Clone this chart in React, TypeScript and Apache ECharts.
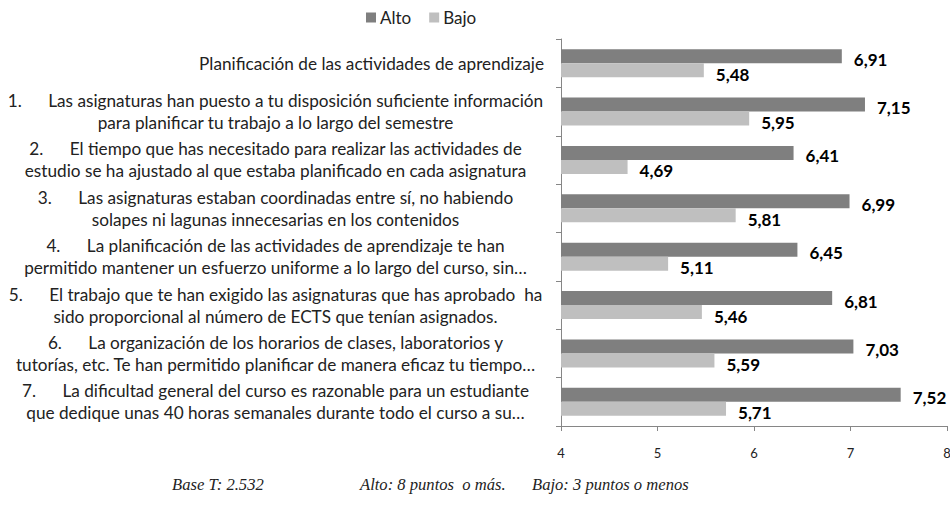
import React, { useEffect, useRef } from "react";
import * as echarts from "echarts";

const categories: string[] = [
  "Planificación de las actividades de aprendizaje",
  "1.      Las asignaturas han puesto a tu disposición suficiente información\npara planificar tu trabajo a lo largo del semestre",
  "2.      El tiempo que has necesitado para realizar las actividades de\nestudio se ha ajustado al que estaba planificado en cada asignatura",
  "3.      Las asignaturas estaban coordinadas entre sí, no habiendo\nsolapes ni lagunas innecesarias en los contenidos",
  "4.      La planificación de las actividades de aprendizaje te han\npermitido mantener un esfuerzo uniforme a lo largo del curso, sin…",
  "5.      El trabajo que te han exigido las asignaturas que has aprobado  ha\nsido proporcional al número de ECTS que tenían asignados.",
  "6.      La organización de los horarios de clases, laboratorios y\ntutorías, etc. Te han permitido planificar de manera eficaz tu tiempo…",
  "7.      La dificultad general del curso es razonable para un estudiante\nque dedique unas 40 horas semanales durante todo el curso a su…",
];

const alto: number[] = [6.91, 7.15, 6.41, 6.99, 6.45, 6.81, 7.03, 7.52];
const bajo: number[] = [5.48, 5.95, 4.69, 5.81, 5.11, 5.46, 5.59, 5.71];

const seriesNames: string[] = ["Alto", "Bajo"];
const footnotes: string[] = ["Base T: 2.532", "Alto: 8 puntos  o más.", "Bajo: 3 puntos o menos"];

const FONT = "Lato";
const CAT_SIZE = 17.2;

export default function App() {
  const ref = useRef<HTMLDivElement>(null);
  useEffect(() => {
    if (!ref.current) return;
    const chart = echarts.init(ref.current, null, { renderer: "svg" });
    const fmt = (p: any) => Number(p.value).toFixed(2).replace(".", ",");
    const footFont = "italic 16.6px 'Liberation Serif'";
    chart.setOption({
      animation: false,
      textStyle: { fontFamily: FONT },
      legend: {
        top: 4,
        left: 361,
        itemWidth: 10,
        itemHeight: 10,
        itemGap: 18,
        icon: "rect",
        textStyle: { fontSize: 17, color: "#222", fontFamily: FONT, padding: [0, 0, 0, -1] },
        data: seriesNames,
      },
      grid: { left: 561, right: 3, top: 39, bottom: 80, containLabel: false, outerBoundsMode: "none" },
      xAxis: {
        type: "value",
        min: 4,
        max: 8,
        interval: 1,
        splitLine: { show: false },
        axisLine: { show: true, lineStyle: { color: "#868686" } },
        axisTick: { show: true, length: 5, lineStyle: { color: "#868686" } },
        axisLabel: { fontSize: 13, color: "#222", margin: 20, fontFamily: FONT },
      },
      yAxis: {
        type: "category",
        inverse: true,
        data: categories,
        axisLine: { show: true, lineStyle: { color: "#868686" } },
        axisTick: { show: true, length: 5, alignWithLabel: false, lineStyle: { color: "#868686" } },
        axisLabel: {
          margin: 17,
          width: 537,
          overflow: "none",
          fontSize: CAT_SIZE,
          color: "#222",
          fontFamily: FONT,
          formatter: (v: string) => {
            const lines = v.split("\n");
            const key = lines.length > 1 ? "c" : "r";
            return lines.map((l) => `{${key}|${l}}`).join("\n");
          },
          rich: {
            c: { align: "center", fontSize: CAT_SIZE, lineHeight: 22, color: "#222", fontFamily: FONT },
            r: { align: "right", fontSize: CAT_SIZE, lineHeight: 22, color: "#222", fontFamily: FONT },
          },
        },
      },
      series: [
        {
          name: seriesNames[0],
          type: "bar",
          data: alto,
          barWidth: 14,
          barGap: "0%",
          itemStyle: { color: "#7f7f7f" },
          label: {
            show: true,
            position: "right",
            distance: 12,
            offset: [0, 3],
            formatter: fmt,
            fontSize: 17,
            fontWeight: "bold",
            color: "#000",
            fontFamily: FONT,
          },
        },
        {
          name: seriesNames[1],
          type: "bar",
          data: bajo,
          barWidth: 14,
          barGap: "0%",
          itemStyle: { color: "#bfbfbf" },
          label: {
            show: true,
            position: "right",
            distance: 12,
            offset: [0, 4],
            formatter: fmt,
            fontSize: 17,
            fontWeight: "bold",
            color: "#000",
            fontFamily: FONT,
          },
        },
      ],
      graphic: [
        { type: "text", left: 172, top: 476, style: { text: footnotes[0], font: footFont, fill: "#222" } },
        { type: "text", left: 360, top: 476, style: { text: footnotes[1], font: footFont, fill: "#222" } },
        { type: "text", left: 532, top: 476, style: { text: footnotes[2], font: footFont, fill: "#222" } },
      ],
    });
    return () => chart.dispose();
  }, []);
  return <div ref={ref} style={{ position: "absolute", left: 0, top: 0, width: 950, height: 506 }} />;
}
